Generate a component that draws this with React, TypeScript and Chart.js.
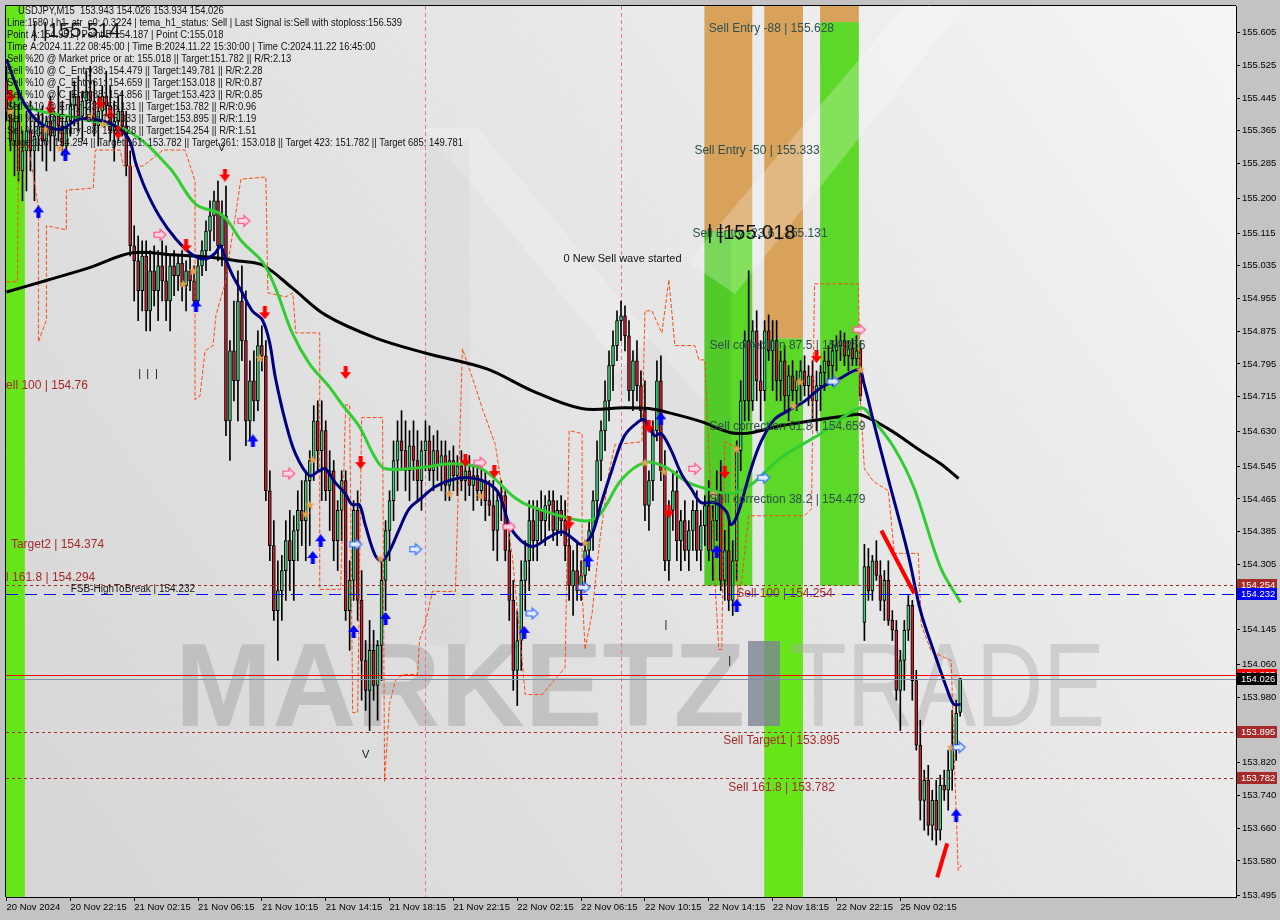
import React, { useEffect, useRef } from "react";
import { Chart, registerables } from "chart.js";

Chart.register(...registerables);

// ---------------- DATA ----------------
// [open, high, low, close] per 15-minute bar
const ohlc: number[][] = [
  [155.487,155.523,155.389,155.413],[155.413,155.450,155.316,155.340],[155.340,155.438,155.255,155.389],[155.389,155.462,155.242,155.267],
  [155.267,155.365,155.194,155.316],[155.316,155.413,155.218,155.365],[155.365,155.438,155.267,155.316],[155.316,155.389,155.194,155.352],
  [155.352,155.413,155.316,155.377],[155.377,155.426,155.291,155.340],[155.340,155.401,155.267,155.389],[155.389,155.450,155.316,155.352],
  [155.352,155.413,155.291,155.401],[155.401,155.474,155.340,155.377],[155.377,155.438,155.304,155.328],[155.328,155.401,155.316,155.389],
  [155.389,155.462,155.352,155.426],[155.426,155.487,155.377,155.450],[155.450,155.499,155.365,155.401],[155.401,155.462,155.340,155.438],
  [155.438,155.511,155.389,155.462],[155.462,155.523,155.401,155.438],[155.438,155.487,155.352,155.377],[155.377,155.450,155.328,155.413],
  [155.413,155.474,155.377,155.450],[155.450,155.511,155.401,155.426],[155.426,155.474,155.340,155.365],[155.365,155.438,155.291,155.389],
  [155.389,155.450,155.340,155.413],[155.413,155.462,155.352,155.377],[155.377,155.413,155.255,155.279],[155.279,155.316,155.059,155.084],
  [155.084,155.133,154.949,155.047],[155.047,155.108,154.901,154.974],[154.974,155.096,154.925,155.059],[155.059,155.096,154.876,154.925],
  [154.925,155.072,154.876,155.023],[155.023,155.084,154.937,154.974],[154.974,155.072,154.901,155.035],[155.035,155.096,154.949,154.998],
  [154.998,155.084,154.901,154.949],[154.949,155.059,154.876,155.035],[155.035,155.072,154.962,155.011],[155.011,155.059,154.974,155.042],
  [155.042,155.072,154.949,154.986],[154.986,155.047,154.925,155.023],[155.023,155.059,154.974,154.998],[154.998,155.035,154.937,154.949],
  [154.949,155.059,154.937,155.035],[155.035,155.096,155.011,155.072],[155.072,155.145,155.023,155.120],[155.120,155.194,155.072,155.157],
  [155.157,155.218,155.096,155.194],[155.194,155.242,155.047,155.084],[155.084,155.194,155.035,155.157],[155.157,155.230,154.620,154.656],
  [154.656,154.852,154.559,154.827],[154.827,154.949,154.705,154.754],[154.754,155.023,154.656,154.949],[154.949,155.035,154.803,154.852],
  [154.852,154.974,154.595,154.656],[154.656,154.803,154.607,154.754],[154.754,154.827,154.656,154.705],[154.705,154.876,154.681,154.840],
  [154.840,154.888,154.778,154.815],[154.815,154.852,154.461,154.485],[154.485,154.534,154.314,154.351],[154.351,154.412,154.168,154.192],
  [154.192,154.314,154.070,154.241],[154.241,154.327,154.168,154.290],[154.290,154.412,154.217,154.363],[154.363,154.437,154.241,154.314],
  [154.314,154.424,154.217,154.388],[154.388,154.485,154.314,154.437],[154.437,154.510,154.351,154.412],[154.412,154.534,154.314,154.510],
  [154.510,154.583,154.351,154.559],[154.559,154.693,154.510,154.656],[154.656,154.705,154.534,154.583],[154.583,154.705,154.461,154.632],
  [154.632,154.656,154.461,154.485],[154.485,154.583,154.388,154.534],[154.534,154.559,154.314,154.363],[154.363,154.461,154.290,154.437],
  [154.437,154.534,154.363,154.510],[154.510,154.534,154.168,154.192],[154.192,154.314,154.095,154.266],[154.266,154.461,154.217,154.437],
  [154.437,154.485,154.168,154.217],[154.217,154.290,153.973,154.070],[154.070,154.119,153.948,153.997],[153.997,154.168,153.899,154.095],
  [154.095,154.144,153.973,154.009],[154.009,154.119,153.924,154.107],[154.107,154.314,154.021,154.266],[154.266,154.412,154.192,154.388],
  [154.388,154.485,154.314,154.461],[154.461,154.607,154.412,154.559],[154.559,154.656,154.485,154.607],[154.607,154.681,154.534,154.583],
  [154.583,154.656,154.485,154.534],[154.534,154.632,154.461,154.595],[154.595,154.656,154.510,154.559],[154.559,154.632,154.461,154.510],
  [154.510,154.607,154.437,154.583],[154.583,154.656,154.534,154.607],[154.607,154.644,154.510,154.534],[154.534,154.620,154.485,154.583],
  [154.583,154.632,154.510,154.546],[154.546,154.607,154.485,154.571],[154.571,154.607,154.461,154.498],[154.498,154.583,154.461,154.559],
  [154.559,154.595,154.485,154.522],[154.522,154.571,154.473,154.546],[154.546,154.583,154.485,154.510],[154.510,154.559,154.461,154.534],
  [154.534,154.571,154.473,154.498],[154.498,154.546,154.437,154.522],[154.522,154.559,154.461,154.485],[154.485,154.546,154.449,154.510],
  [154.510,154.534,154.412,154.461],[154.461,154.510,154.424,154.449],[154.449,154.510,154.339,154.388],[154.388,154.485,154.314,154.461],
  [154.461,154.510,154.412,154.473],[154.473,154.485,154.314,154.339],[154.339,154.388,154.168,154.217],[154.217,154.266,153.997,154.046],
  [154.046,154.192,153.960,154.119],[154.119,154.314,154.046,154.266],[154.266,154.363,154.192,154.314],[154.314,154.461,154.241,154.412],
  [154.412,154.461,154.314,154.363],[154.363,154.461,154.314,154.437],[154.437,154.485,154.363,154.412],[154.412,154.473,154.351,154.449],
  [154.449,154.485,154.388,154.461],[154.461,154.485,154.363,154.388],[154.388,154.461,154.351,154.437],[154.437,154.473,154.375,154.412],
  [154.412,154.461,154.314,154.351],[154.351,154.412,154.217,154.253],[154.253,154.339,154.180,154.290],[154.290,154.363,154.217,154.241],
  [154.241,154.314,154.217,154.278],[154.278,154.363,154.241,154.339],[154.339,154.412,154.290,154.388],[154.388,154.485,154.339,154.461],
  [154.461,154.607,154.412,154.559],[154.559,154.656,154.510,154.632],[154.632,154.754,154.583,154.705],[154.705,154.827,154.656,154.791],
  [154.791,154.876,154.730,154.840],[154.840,154.925,154.803,154.901],[154.901,154.949,154.852,154.913],[154.913,154.937,154.827,154.864],
  [154.864,154.901,154.705,154.730],[154.730,154.827,154.681,154.803],[154.803,154.852,154.705,154.742],[154.742,154.778,154.656,154.681],
  [154.681,154.754,154.412,154.449],[154.449,154.534,154.388,154.510],[154.510,154.656,154.461,154.632],[154.632,154.803,154.607,154.754],
  [154.754,154.815,154.510,154.534],[154.534,154.583,154.290,154.314],[154.314,154.461,154.266,154.437],[154.437,154.534,154.388,154.485],
  [154.485,154.534,154.314,154.363],[154.363,154.437,154.290,154.412],[154.412,154.461,154.314,154.339],[154.339,154.412,154.290,154.388],
  [154.388,154.461,154.339,154.437],[154.437,154.485,154.314,154.339],[154.339,154.437,154.290,154.400],[154.400,154.473,154.351,154.449],
  [154.449,154.510,154.314,154.339],[154.339,154.449,154.266,154.412],[154.412,154.534,154.363,154.485],[154.485,154.559,154.241,154.266],
  [154.266,154.388,154.217,154.339],[154.339,154.412,154.192,154.217],[154.217,154.363,154.180,154.314],[154.314,154.607,154.266,154.583],
  [154.583,154.754,154.534,154.705],[154.705,154.876,154.656,154.852],[154.852,155.023,154.656,154.705],[154.705,154.901,154.681,154.876],
  [154.876,154.925,154.705,154.754],[154.754,154.852,154.656,154.730],[154.730,154.901,154.705,154.876],[154.876,154.915,154.803,154.827],
  [154.827,154.901,154.730,154.852],[154.852,154.901,154.705,154.754],[154.754,154.827,154.705,154.803],[154.803,154.840,154.681,154.717],
  [154.717,154.791,154.656,154.766],[154.766,154.803,154.705,154.730],[154.730,154.778,154.681,154.754],[154.754,154.803,154.705,154.778],
  [154.778,154.815,154.717,154.742],[154.742,154.791,154.693,154.766],[154.766,154.803,154.656,154.705],[154.705,154.778,154.632,154.742],
  [154.742,154.791,154.681,154.774],[154.774,154.827,154.730,154.803],[154.803,154.840,154.754,154.791],[154.791,154.852,154.742,154.827],
  [154.827,154.864,154.778,154.840],[154.840,154.876,154.803,154.852],[154.852,154.871,154.791,154.815],[154.815,154.852,154.778,154.832],
  [154.832,154.857,154.791,154.808],[154.808,154.864,154.791,154.827],[154.832,154.852,154.705,154.717],[154.163,154.354,154.119,154.300],
  [154.300,154.344,154.217,154.241],[154.241,154.327,154.217,154.314],[154.314,154.363,154.266,154.278],[154.278,154.314,154.192,154.217],
  [154.217,154.290,154.168,154.266],[154.266,154.314,154.156,154.168],[154.168,154.192,154.119,154.144],[154.144,154.168,153.973,153.997],
  [153.997,154.095,153.899,154.070],[154.070,154.168,153.997,154.144],[154.144,154.229,154.119,154.205],[154.205,154.217,153.973,154.021],
  [154.021,154.046,153.851,153.863],[153.863,153.924,153.680,153.728],[153.728,153.802,153.655,153.777],[153.777,153.814,153.643,153.667],
  [153.667,153.753,153.631,153.728],[153.728,153.777,153.619,153.655],[153.655,153.790,153.631,153.765],[153.765,153.802,153.728,153.753],
  [153.753,153.851,153.704,153.802],[153.802,153.948,153.753,153.863],[153.863,153.973,153.826,153.941],[153.943,154.026,153.934,154.026],
];

const timeTickBars = [0, 16, 32, 48, 64, 80, 96, 112, 128, 144, 160, 176, 192, 208, 224];
const timeTickLabels = [
  "20 Nov 2024", "20 Nov 22:15", "21 Nov 02:15", "21 Nov 06:15", "21 Nov 10:15", "21 Nov 14:15",
  "21 Nov 18:15", "21 Nov 22:15", "22 Nov 02:15", "22 Nov 06:15", "22 Nov 10:15", "22 Nov 14:15",
  "22 Nov 18:15", "22 Nov 22:15", "25 Nov 02:15",
];
const priceTicks = [
  155.605, 155.525, 155.445, 155.365, 155.285, 155.2, 155.115, 155.035, 154.955, 154.875, 154.795,
  154.715, 154.63, 154.545, 154.465, 154.385, 154.305, 154.225, 154.145, 154.06, 153.98, 153.895,
  153.82, 153.74, 153.66, 153.58, 153.495,
];

// [bar, price]
const maSlow = [
  [0,154.971],[10.6,155.001],[20.6,155.030],[31.6,155.067],[41.6,155.062],[49.9,155.057],[58.1,155.047],
  [64.1,155.037],[71.6,154.981],[79.9,154.915],[92.4,154.859],[104.9,154.822],[120.4,154.783],[131.6,154.730],
  [144.1,154.686],[154.9,154.688],[160.9,154.686],[165.9,154.676],[174.1,154.654],[181.6,154.627],[186.6,154.627],
  [194.1,154.644],[210.9,154.669],[214.1,154.671],[220.9,154.637],[229.1,154.583],[234.1,154.551],[238.6,154.515],
];
const maMid = [
  [0,155.450],[7.4,155.416],[19.1,155.394],[30.9,155.362],[40.9,155.274],[47.4,155.186],[54.1,155.159],
  [59.1,155.093],[64.1,155.045],[67.4,154.981],[71.6,154.871],[75.9,154.796],[80.9,154.739],[84.1,154.696],
  [88.4,154.642],[92.4,154.566],[94.9,154.539],[104.1,154.542],[111.6,154.551],[119.1,154.539],[127.4,154.468],
  [131.6,154.446],[144.1,154.412],[148.4,154.424],[154.1,154.512],[159.9,154.554],[164.9,154.544],[170.9,154.505],
  [177.4,154.485],[181.6,154.478],[186.6,154.500],[189.9,154.529],[194.1,154.566],[204.1,154.625],[214.1,154.688],
  [217.4,154.656],[222.4,154.591],[227.4,154.493],[234.1,154.297],[239.1,154.212],
];
const temaLine = [
  [0,155.540],[4.1,155.438],[8.4,155.384],[13.4,155.369],[18.4,155.394],[24.1,155.389],[28.4,155.369],
  [30.9,155.340],[32.4,155.286],[34.9,155.221],[38.4,155.155],[42.4,155.101],[46.6,155.062],[49.9,155.052],
  [52.4,155.067],[53.6,155.084],[54.9,155.052],[56.6,155.013],[59.1,154.969],[61.6,154.925],[64.1,154.903],
  [65.9,154.849],[67.4,154.761],[69.9,154.654],[72.4,154.576],[75.9,154.522],[78.4,154.534],[79.9,154.539],
  [82.4,154.505],[84.9,154.478],[86.6,154.451],[88.4,154.451],[89.9,154.402],[92.4,154.327],[94.1,154.314],
  [95.9,154.336],[98.4,154.390],[100.9,154.441],[104.1,154.468],[107.4,154.495],[111.6,154.512],[115.9,154.517],
  [120.4,154.505],[123.4,154.478],[126.6,154.390],[131.6,154.349],[135.9,154.371],[139.1,154.385],[141.6,154.371],
  [144.1,154.354],[146.6,154.376],[149.1,154.456],[151.6,154.532],[154.9,154.620],[158.4,154.654],[159.9,154.659],
  [162.4,154.620],[164.1,154.625],[166.6,154.583],[169.1,154.527],[171.6,154.490],[174.1,154.456],[177.4,154.456],
  [180.4,154.434],[181.6,154.402],[183.4,154.432],[186.6,154.539],[189.1,154.605],[192.4,154.659],[195.9,154.681],
  [199.9,154.703],[204.1,154.737],[208.4,154.757],[213.6,154.781],[214.9,154.747],[217.4,154.649],[220.9,154.517],
  [225.9,154.332],[229.1,154.190],[232.4,154.092],[235.9,153.995],[237.4,153.963],[239.1,153.963],
];
const trailStop = [
  [0,154.996],[2.75,154.996],[3,155.328],[5.5,155.328],[8,155.177],[8,154.849],[10,154.903],[10,155.133],
  [15,155.123],[15,155.220],[21.75,155.225],[22.25,155.318],[28.5,155.318],[29.25,155.279],[34.25,155.279],
  [39.25,155.318],[44.75,155.318],[47.25,155.242],[47.25,154.708],[48.5,154.717],[49.75,154.827],[51.75,154.840],
  [52.5,154.915],[54.75,154.991],[58.75,155.247],[65,155.252],[65.5,154.969],[70,154.959],[71.75,154.969],
  [72.5,154.871],[78.5,154.871],[78.5,154.244],[83.75,154.244],[85,154.695],[86,154.695],[86.75,153.943],
  [88,153.943],[89,154.664],[94.25,154.664],[94.75,153.775],[96,153.965],[97.5,154.021],[99.25,154.036],
  [103,154.036],[103.5,154.119],[105,154.163],[106.75,154.239],[112.5,154.239],[114.25,154.832],[116,154.783],
  [117.5,154.739],[119.25,154.686],[122.5,154.598],[126.75,154.327],[130,153.987],[134.25,153.987],[140,154.053],
  [141,154.632],[144.25,154.625],[144.25,154.239],[145,154.097],[146.75,154.185],[148.5,154.349],[151,154.532],
  [152.5,154.598],[159.25,154.605],[160,154.925],[161.75,154.925],[164.25,154.871],[166,155.001],[167.5,154.840],
  [172.5,154.840],[173.5,154.805],[175,154.805],[177.5,154.271],[178.5,154.097],[179.25,154.097],[180,154.605],
  [182.5,154.593],[183.25,154.212],[184.25,154.268],[186,154.424],[200,154.424],[201.75,154.441],[202.5,154.991],
  [213.5,154.991],[214,154.703],[215,154.539],[217.25,154.508],[221,154.485],[222.5,154.332],[228.5,154.332],
  [229.25,154.158],[231.75,154.092],[236.75,154.070],[237.5,153.841],[238.5,153.557],[239.25,153.570],
];
const sellArrows = [
  [1,155.450],[11,155.421],[23.5,155.433],[26,155.406],[28,155.360],[45,155.084],[54.75,155.257],[64.75,154.920],
  [85,154.774],[88.75,154.554],[115,154.559],[122.25,154.532],[141,154.407],[161,154.642],[166,154.434],[180,154.530],[203,154.813],
];
const buyArrows = [
  [8,155.167],[14.75,155.308],[47.5,154.937],[61.75,154.607],[76.75,154.322],[78.75,154.363],[87,154.141],
  [95,154.173],[129.75,154.139],[145.75,154.314],[164,154.661],[178,154.337],[183,154.205],[238,153.692],
];
const sellHints = [[38.5,155.111],[59.5,155.145],[70.75,154.527],[118.75,154.554],[126,154.397],[172.5,154.539],[213.75,154.879]];
const buyHints = [[87.5,154.354],[102.5,154.342],[131.75,154.185],[144.75,154.249],[189.75,154.517],[207.25,154.752],[238.75,153.858]];
const starMarks = [
  [1,155.413],[9.75,155.369],[13.5,155.323],[21,155.401],[24.25,155.382],[44.25,154.991],[46.75,155.023],[63.5,154.810],
  [75,154.429],[76,154.451],[76.75,154.561],[93.75,154.319],[111,154.478],[118.75,154.473],[145,154.358],[160,154.554],
  [164.75,154.532],[177.25,154.478],[183,154.588],[197.25,154.693],[198.75,154.752],[208,154.754],[214,154.781],[236.75,153.858],
];
const trendA = [[219.25,154.388],[227.5,154.234]];
const trendB = [[233.25,153.540],[235.75,153.623]];

// zones: [fromBar, toBar, lowPrice, highPrice]
const orangeZones = [[174.9,186.9,155.120,155.70],[189.9,199.6,154.857,155.70],[203.9,213.6,155.631,155.70]];
const greenZones = [[-1,4.6,153.40,155.70],[174.9,186.9,154.253,155.120],[189.9,199.6,154.253,154.857],[203.9,213.6,154.253,155.631]];
const brightZones = [[189.9,199.6,153.40,154.253]];
const shadeZones = [[174.9,181.6,154.253,155.120]];
const separatorBars = [104.9, 153.9];

const dashedLevels = [154.254, 153.895, 153.782];
const fsbLevel = 154.232;
const askPrice = 154.035;
const bidPrice = 154.026;

// [text, bar, price]
const zoneTexts = [
  ["Sell Entry -88 | 155.628", 176, 155.614],
  ["Sell Entry -50 | 155.333", 172.4, 155.316],
  ["Sell Entry -23.6 | 155.131", 171.9, 155.113],
  ["Sell correction 87.5 | 154.856", 176.2, 154.840],
  ["Sell correction 61.8 | 154.659", 176.2, 154.642],
  ["Sell correction 38.2 | 154.479", 176.2, 154.464],
];
const levelTexts = [
  ["Sell 100 | 154.254", 182.9, 154.234],
  ["Sell Target1 | 153.895", 179.6, 153.875],
  ["Sell 161.8 | 153.782", 180.9, 153.760],
  ["ell 100 | 154.76", -0.1, 154.742],
  ["Target2 | 154.374", 1.1, 154.354],
  ["l 161.8 | 154.294", -0.1, 154.273],
];
const noteTexts = [
  ["0 New Sell wave started", 139.6, 155.052],
  ["FSB-HighToBreak | 154.232", 16.1, 154.244],
  ["V", 53, 155.323],
  ["V", 89.1, 153.838],
  ["|", 33, 154.771],
  ["|", 35, 154.771],
  ["|", 37.2, 154.771],
  ["|", 164.9, 154.156],
  ["|", 180.9, 154.070],
];
const bigTexts = [
  ["| |155.514", 6.4, 155.609],
  ["| |155.018", 175.6, 155.115],
];
const headerLines = [
  "USDJPY,M15  153.943 154.026 153.934 154.026",
  "Line:1580 | h1_atr_c0: 0.3224 | tema_h1_status: Sell | Last Signal is:Sell with stoploss:156.539",
  "Point A:154.951 | Point B:154.187 | Point C:155.018",
  "Time A:2024.11.22 08:45:00 | Time B:2024.11.22 15:30:00 | Time C:2024.11.22 16:45:00",
  "Sell %20 @ Market price or at: 155.018 || Target:151.782 || R/R:2.13",
  "Sell %10 @ C_Entry38: 154.479 || Target:149.781 || R/R:2.28",
  "Sell %10 @ C_Entry61: 154.659 || Target:153.018 || R/R:0.87",
  "Sell %10 @ C_Entry88: 154.856 || Target:153.423 || R/R:0.85",
  "Sell %10 @ Entry -23: 155.131 || Target:153.782 || R/R:0.96",
  "Sell %20 @ Entry -50: 155.333 || Target:153.895 || R/R:1.19",
  "Sell %20 @ Entry -88: 155.628 || Target:154.254 || R/R:1.51",
  "Target100: 154.254 || Target 161: 153.782 || Target 261: 153.018 || Target 423: 151.782 || Target 685: 149.781",
];
// [price, box colour]
const axisBoxes: [number, string][] = [
  [154.254, "#a52a2a"], [154.232, "#0000ff"], [askPrice, "#ff0000"], [bidPrice, "#000000"],
  [153.895, "#a52a2a"], [153.782, "#a52a2a"],
];

// ---------------- RENDERING ----------------
const FONT = '"Liberation Sans", Arial, sans-serif';
const BULL = "#3ccf7a";
const BEAR = "#c81e30";

function makeCanvas(w: number, h: number, draw: (g: CanvasRenderingContext2D) => void) {
  const c = document.createElement("canvas");
  c.width = w;
  c.height = h;
  const g = c.getContext("2d")!;
  draw(g);
  return c;
}

function pts(arr: number[][]) {
  return arr.map(([x, y]) => ({ x, y }));
}

export default function App() {
  const ref = useRef<HTMLCanvasElement | null>(null);

  useEffect(() => {
    document.body.style.margin = "0";
    const canvas = ref.current!;

    const downArrow = makeCanvas(11, 13, (g) => {
      g.fillStyle = "#ff0000";
      g.beginPath();
      g.moveTo(3.5, 0); g.lineTo(7.5, 0); g.lineTo(7.5, 6); g.lineTo(11, 6);
      g.lineTo(5.5, 13); g.lineTo(0, 6); g.lineTo(3.5, 6); g.closePath(); g.fill();
    });
    const upArrow = makeCanvas(11, 13, (g) => {
      g.fillStyle = "#0000ff";
      g.beginPath();
      g.moveTo(3.5, 13); g.lineTo(7.5, 13); g.lineTo(7.5, 7); g.lineTo(11, 7);
      g.lineTo(5.5, 0); g.lineTo(0, 7); g.lineTo(3.5, 7); g.closePath(); g.fill();
    });
    const hollow = (stroke: string, fill: string) =>
      makeCanvas(14, 14, (g) => {
        g.fillStyle = fill;
        g.strokeStyle = stroke;
        g.lineWidth = 1.2;
        g.beginPath();
        g.moveTo(1, 4.5); g.lineTo(7, 4.5); g.lineTo(7, 1.5); g.lineTo(13, 7);
        g.lineTo(7, 12.5); g.lineTo(7, 9.5); g.lineTo(1, 9.5); g.closePath();
        g.fill(); g.stroke();
      });
    const pinkArrow = hollow("#ff4f86", "#ffd6e4");
    const blueHollow = hollow("#2a6cff", "#dfe8ff");
    const star = makeCanvas(10, 10, (g) => {
      g.fillStyle = "#e3a04e";
      g.beginPath();
      for (let k = 0; k < 10; k++) {
        const r = k % 2 === 0 ? 5 : 2.1;
        const a = -Math.PI / 2 + (k * Math.PI) / 5;
        const px = 5 + r * Math.cos(a);
        const py = 5.4 + r * Math.sin(a);
        if (k === 0) g.moveTo(px, py); else g.lineTo(px, py);
      }
      g.closePath();
      g.fill();
    });

    const tickLabel = new Map<number, string>();
    timeTickBars.forEach((b, k) => tickLabel.set(b, timeTickLabels[k]));

    const decor = {
      id: "decor",
      beforeDraw(chart: any) {
        const { ctx, chartArea: a, scales } = chart;
        const X = (v: number) => scales.x.getPixelForValue(v);
        const Y = (v: number) => scales.y.getPixelForValue(v);
        ctx.save();
        ctx.fillStyle = "#c3c3c3";
        ctx.fillRect(0, 0, chart.width, chart.height);
        const g = ctx.createLinearGradient(a.left, a.bottom, a.right, a.top);
        g.addColorStop(0, "#d6d6d6");
        g.addColorStop(0.55, "#e5e5e5");
        g.addColorStop(1, "#f5f5f5");
        ctx.fillStyle = g;
        ctx.fillRect(a.left, a.top, a.right - a.left, a.bottom - a.top);
        ctx.beginPath();
        ctx.rect(a.left, a.top, a.right - a.left, a.bottom - a.top);
        ctx.clip();

        const poly = (p: number[][], fill: string) => {
          ctx.fillStyle = fill;
          ctx.beginPath();
          p.forEach(([px, py], k) => (k ? ctx.lineTo(px, py) : ctx.moveTo(px, py)));
          ctx.closePath();
          ctx.fill();
        };
        // faint logo shapes
        poly([[425, 128], [478, 128], [650, 335], [622, 368]], "rgba(255,255,255,0.2)");
        ctx.fillStyle = "rgba(180,180,180,0.1)";
        ctx.fillRect(425, 140, 45, 505);
        poly([[610, 380], [650, 340], [745, 450], [705, 490]], "rgba(200,200,200,0.14)");

        const rect = (z: number[], fill: string) => {
          const x0 = X(z[0]), x1 = X(z[1]);
          const y0 = Y(z[3]), y1 = Y(z[2]);
          ctx.fillStyle = fill;
          ctx.fillRect(x0, y0, x1 - x0, y1 - y0);
        };
        orangeZones.forEach((z) => rect(z, "#d9a25b"));
        greenZones.forEach((z, k) => rect(z, k === 0 ? "#66e619" : "#5cd828"));
        brightZones.forEach((z) => rect(z, "#66e619"));
        shadeZones.forEach((z) => rect(z, "rgba(30,130,50,0.16)"));

        // light diagonal ribbon of the logo
        poly([[688, 262], [905, 5], [965, 5], [735, 294]], "rgba(255,255,255,0.24)");

        // watermark
        ctx.textBaseline = "alphabetic";
        ctx.textAlign = "left";
        ctx.fillStyle = "rgba(150,150,150,0.4)";
        ctx.font = `bold 119px ${FONT}`;
        ctx.fillText("MARKETZ", 175, 726, 570);
        ctx.fillStyle = "rgba(125,133,146,0.8)";
        ctx.fillRect(748, 641, 32, 85);
        ctx.font = `119px ${FONT}`;
        ctx.fillStyle = "rgba(170,170,170,0.42)";
        ctx.fillText("TRADE", 790, 726, 315);

        // period separators
        ctx.strokeStyle = "#f070a0";
        ctx.lineWidth = 1;
        ctx.setLineDash([4, 3]);
        separatorBars.forEach((b) => {
          const px = Math.round(X(b)) + 0.5;
          ctx.beginPath();
          ctx.moveTo(px, a.top);
          ctx.lineTo(px, a.bottom);
          ctx.stroke();
        });
        ctx.restore();
      },
      afterDatasetsDraw(chart: any) {
        const { ctx, chartArea: a, scales } = chart;
        const X = (v: number) => scales.x.getPixelForValue(v);
        const Y = (v: number) => scales.y.getPixelForValue(v);
        ctx.save();
        ctx.beginPath();
        ctx.rect(a.left, a.top, a.right - a.left, a.bottom - a.top);
        ctx.clip();
        const hline = (p: number, color: string, dash: number[]) => {
          const py = Math.round(Y(p)) + 0.5;
          ctx.strokeStyle = color;
          ctx.lineWidth = 1;
          ctx.setLineDash(dash);
          ctx.beginPath();
          ctx.moveTo(a.left, py);
          ctx.lineTo(a.right, py);
          ctx.stroke();
        };
        dashedLevels.forEach((p) => hline(p, "#a52a2a", [3, 3]));
        hline(fsbLevel, "#0000ff", [12, 7]);
        hline(askPrice, "#ff0000", []);
        hline(bidPrice, "#7f8fa0", []);
        ctx.setLineDash([]);

        ctx.textAlign = "left";
        ctx.textBaseline = "middle";
        ctx.font = `12px ${FONT}`;
        ctx.fillStyle = "#2f4f4f";
        zoneTexts.forEach(([t, b, p]: any) => ctx.fillText(t, X(b), Y(p)));
        ctx.fillStyle = "#a52a2a";
        levelTexts.forEach(([t, b, p]: any) => ctx.fillText(t, X(b), Y(p)));
        ctx.fillStyle = "#111";
        noteTexts.forEach(([t, b, p]: any, k: number) => {
          ctx.font = k === 1 ? `10px ${FONT}` : `11px ${FONT}`;
          ctx.fillText(t, X(b), Y(p));
        });
        ctx.font = `20px ${FONT}`;
        bigTexts.forEach(([t, b, p]: any) => ctx.fillText(t, X(b), Y(p)));

        ctx.font = `10px ${FONT}`;
        ctx.fillStyle = "#111";
        headerLines.forEach((t, k) => {
          const w = ctx.measureText(t).width;
          ctx.fillText(t, k === 0 ? 18 : 7, 11 + 12 * k, w * 0.94);
        });
        ctx.restore();
      },
      afterDraw(chart: any) {
        const { ctx, chartArea: a, scales } = chart;
        const Y = (v: number) => scales.y.getPixelForValue(v);
        ctx.save();
        ctx.font = `9.5px ${FONT}`;
        ctx.textAlign = "left";
        ctx.textBaseline = "middle";
        axisBoxes.forEach(([p, c]) => {
          const py = Math.round(Y(p));
          ctx.fillStyle = c;
          ctx.fillRect(a.right + 1, py - 6, 40, 12);
          ctx.fillStyle = "#ffffff";
          ctx.fillText(p.toFixed(3), a.right + 5, py + 0.5);
        });
        ctx.strokeStyle = "#000";
        ctx.lineWidth = 1;
        ctx.beginPath();
        ctx.moveTo(a.left - 0.5, a.bottom);
        ctx.lineTo(a.left - 0.5, a.top - 0.5);
        ctx.lineTo(a.right, a.top - 0.5);
        ctx.stroke();
        ctx.restore();
      },
    };

    const lineDs = (data: number[][], color: string, width: number, order: number, extra: any = {}) => ({
      type: "line",
      data: pts(data),
      borderColor: color,
      borderWidth: width,
      pointRadius: 0,
      tension: 0.35,
      fill: false,
      order,
      ...extra,
    });
    const markerDs = (data: number[][], style: any, order: number) => ({
      type: "line",
      data: pts(data),
      showLine: false,
      pointStyle: style,
      pointRadius: 5,
      order,
    });

    const chart = new Chart(canvas, {
      type: "bar",
      data: {
        datasets: [
          {
            type: "bar",
            data: ohlc.map((c, i) => ({ x: i, y: [c[2], c[1]] })),
            backgroundColor: "#000000",
            borderWidth: 0,
            barThickness: 1,
            grouped: false,
            order: 30,
          },
          {
            type: "bar",
            data: ohlc.map((c, i) => ({ x: i, y: [c[0], c[3]] })),
            backgroundColor: ohlc.map((c) => (c[3] >= c[0] ? BULL : BEAR)),
            borderColor: "#000000",
            borderWidth: 1,
            borderSkipped: false,
            barThickness: 3,
            minBarLength: 1,
            grouped: false,
            order: 29,
          },
          lineDs(trailStop, "#ff4a12", 1, 28, { tension: 0, borderDash: [4, 2] }),
          lineDs(maSlow, "#000000", 3, 27),
          lineDs(maMid, "#33cc33", 3, 26),
          lineDs(temaLine, "#000080", 3, 25),
          lineDs(trendA, "#ff0000", 4, 24, { tension: 0 }),
          lineDs(trendB, "#ff0000", 4, 23, { tension: 0 }),
          markerDs(starMarks, star, 6),
          markerDs(sellHints, pinkArrow, 5),
          markerDs(buyHints, blueHollow, 4),
          markerDs(sellArrows, downArrow, 3),
          markerDs(buyArrows, upArrow, 2),
        ] as any,
      },
      options: {
        animation: false,
        responsive: false,
        devicePixelRatio: 1,
        events: [],
        layout: { padding: { left: 3, top: 5, right: 0, bottom: 0 } },
        plugins: { legend: { display: false }, tooltip: { enabled: false } },
        scales: {
          x: {
            type: "linear",
            min: -0.125,
            max: 308.125,
            offset: false,
            grid: { display: true, drawOnChartArea: false, drawTicks: true, tickLength: 4, color: "#000", offset: false },
            border: { display: true, color: "#000" },
            ticks: {
              autoSkip: false,
              maxRotation: 0,
              minRotation: 0,
              align: "start",
              padding: 1,
              color: "#000",
              font: { family: FONT, size: 9.5 },
              callback: (v: any) => tickLabel.get(Number(v)) ?? "",
            },
            afterBuildTicks: (s: any) => {
              s.ticks = timeTickBars.map((v) => ({ value: v }));
            },
            afterFit: (s: any) => {
              s.height = 23;
              s.paddingLeft = 0;
              s.paddingRight = 0;
            },
          } as any,
          y: {
            type: "linear",
            position: "right",
            min: 153.4919,
            max: 155.6702,
            beginAtZero: false,
            grid: { display: true, drawOnChartArea: false, drawTicks: true, tickLength: 4, color: "#000" },
            border: { display: true, color: "#000" },
            ticks: {
              autoSkip: false,
              padding: 2,
              color: "#000",
              font: { family: FONT, size: 9.5 },
              callback: (v: any) => Number(v).toFixed(3),
            },
            afterBuildTicks: (s: any) => {
              s.ticks = priceTicks.map((v) => ({ value: v }));
            },
            afterFit: (s: any) => {
              s.width = 44;
              s.paddingTop = 0;
              s.paddingBottom = 0;
            },
          } as any,
        },
      } as any,
      plugins: [decor as any],
    });

    return () => chart.destroy();
  }, []);

  return (
    <div style={{ width: 1280, height: 920 }}>
      <canvas ref={ref} width={1280} height={920} style={{ display: "block" }} />
    </div>
  );
}
